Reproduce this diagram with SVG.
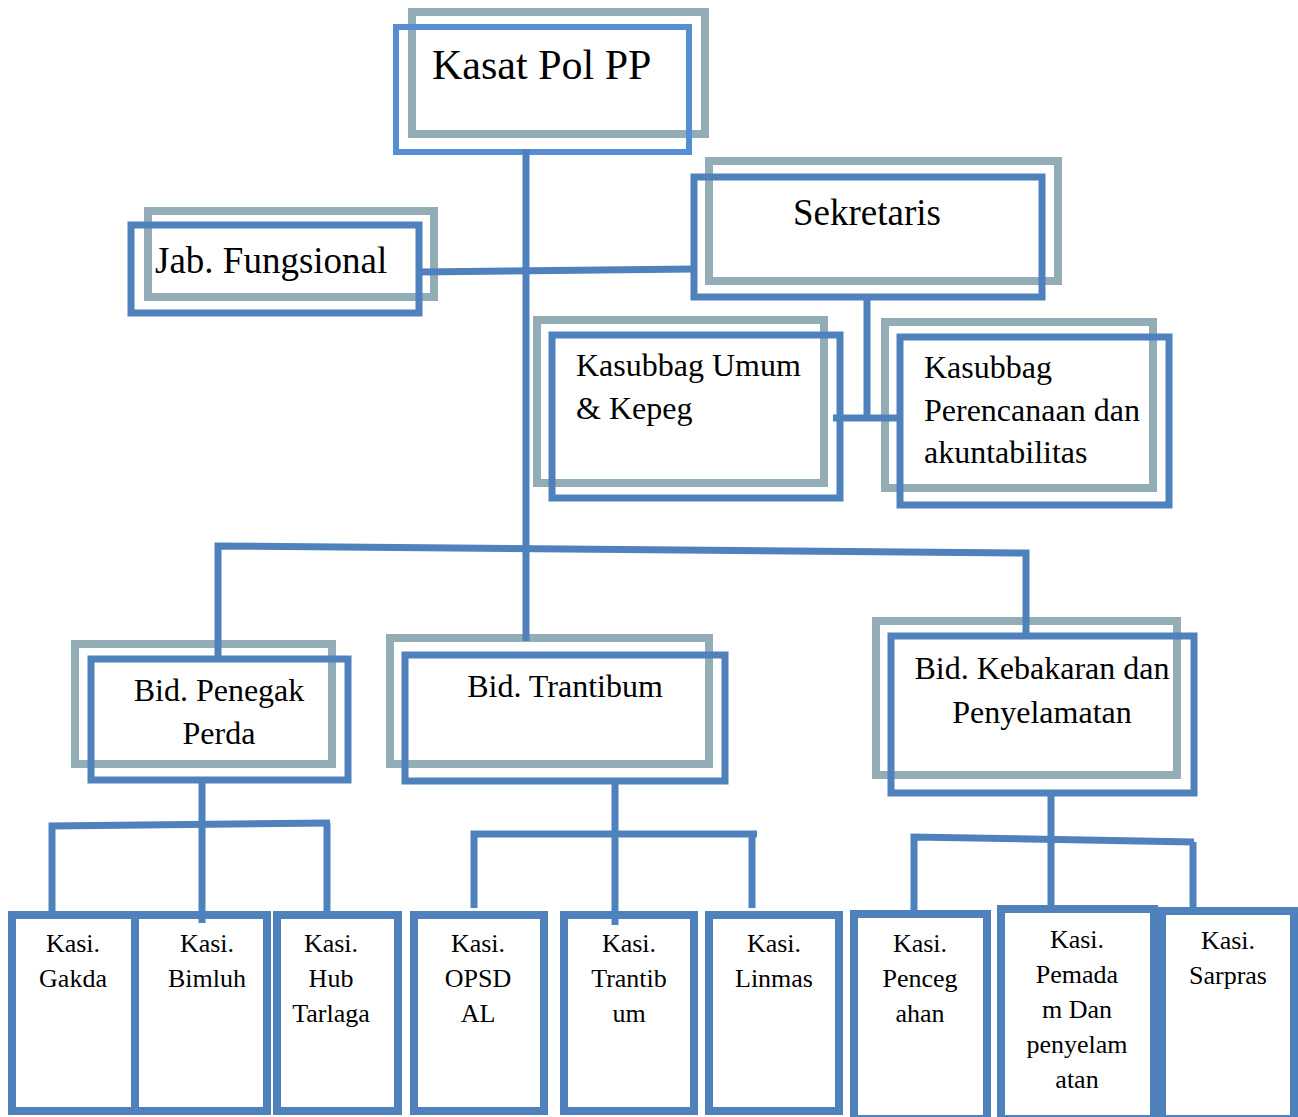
<svg xmlns="http://www.w3.org/2000/svg" width="1298" height="1117" viewBox="0 0 1298 1117">
<style>
.g{fill:none;stroke:#92adb5;stroke-width:8}
.b{fill:none;stroke:#4f81bd;stroke-width:7}
.bl{fill:none;stroke:#558ed5;stroke-width:6}
.c{fill:none;stroke:#4f81bd;stroke-width:7}
.bx{fill:none;stroke:#4f81bd;stroke-width:8}
text{font-family:"Liberation Serif","Times New Roman",serif;fill:#000}
.t30{font-size:32px}
.t34{font-size:37px}
.t24{font-size:26px;text-anchor:middle}
.m{text-anchor:middle}
</style>
<rect width="1298" height="1117" fill="#fff"/>
<g id="kasat">
<rect class="g" x="412" y="12" width="293" height="122"/>
<rect class="bl" x="396" y="27" width="293" height="125"/>
<text x="432" y="79" style="font-size:42px">Kasat Pol PP</text>
</g>
<g id="jab">
<rect class="g" x="148" y="211" width="286" height="86"/>
<rect class="b" x="131" y="225" width="288" height="88"/>
<text class="t34" x="155" y="273">Jab. Fungsional</text>
</g>
<g id="sekretaris">
<rect class="g" x="709" y="161" width="349" height="120"/>
<rect class="b" x="694" y="177" width="348" height="120"/>
<text class="t34 m" x="867" y="225">Sekretaris</text>
</g>
<g id="umum">
<rect class="g" x="537" y="320" width="287" height="163"/>
<rect class="b" x="552" y="335" width="288" height="163"/>
<text class="t30" x="576" y="376">Kasubbag Umum</text>
<text class="t30" x="576" y="419">&amp; Kepeg</text>
</g>
<g id="perencanaan">
<rect class="g" x="885" y="322" width="268" height="166"/>
<rect class="b" x="900" y="337" width="269" height="168"/>
<text class="t30" x="924" y="378">Kasubbag</text>
<text class="t30" x="924" y="421">Perencanaan dan</text>
<text class="t30" x="924" y="463">akuntabilitas</text>
</g>
<g id="penegak">
<rect class="g" x="75" y="644" width="257" height="120"/>
<rect class="b" x="91" y="659" width="257" height="121"/>
<text class="t30 m" x="219" y="701">Bid. Penegak</text>
<text class="t30 m" x="219" y="744">Perda</text>
</g>
<g id="trantibum">
<rect class="g" x="390" y="638" width="319" height="126"/>
<rect class="b" x="405" y="655" width="320" height="126"/>
<text class="t30 m" x="565" y="697">Bid. Trantibum</text>
</g>
<g id="kebakaran">
<rect class="g" x="876" y="621" width="301" height="154"/>
<rect class="b" x="891" y="636" width="303" height="157"/>
<text class="t30 m" x="1042" y="679">Bid. Kebakaran dan</text>
<text class="t30 m" x="1042" y="723">Penyelamatan</text>
</g>
<g id="connectors">
<line class="c" x1="526" y1="149" x2="526" y2="641"/>
<line class="c" x1="419" y1="272" x2="693" y2="269"/>
<line class="c" x1="867" y1="298" x2="867" y2="418"/>
<line class="c" x1="833" y1="418" x2="899" y2="418"/>
<polyline class="c" points="218,657 218,546 1026,553 1026,636"/>
<line class="c" x1="202" y1="781" x2="202" y2="923"/>
<polyline class="c" points="52,915 52,826 330,823"/>
<line class="c" x1="327" y1="823" x2="327" y2="912"/>
<line class="c" x1="615" y1="781" x2="615" y2="925"/>
<polyline class="c" points="474,908 474,834 757,834"/>
<line class="c" x1="752" y1="834" x2="752" y2="908"/>
<line class="c" x1="1051" y1="793" x2="1051" y2="907"/>
<polyline class="c" points="914,911 914,837 1194,842"/>
<line class="c" x1="1193" y1="842" x2="1193" y2="908"/>
</g>
<g id="gakda"><rect class="bx" x="12" y="915" width="123" height="196"/><text class="t24" x="73" y="952">Kasi.</text><text class="t24" x="73" y="987">Gakda</text></g>
<g id="bimluh"><rect class="bx" x="135" y="915" width="132" height="196"/><text class="t24" x="207" y="952">Kasi.</text><text class="t24" x="207" y="987">Bimluh</text></g>
<g id="hub"><rect class="bx" x="277" y="915" width="121" height="196"/><text class="t24" x="331" y="952">Kasi.</text><text class="t24" x="331" y="987">Hub</text><text class="t24" x="331" y="1022">Tarlaga</text></g>
<g id="opsdal"><rect class="bx" x="414" y="915" width="130" height="196"/><text class="t24" x="478" y="952">Kasi.</text><text class="t24" x="478" y="987">OPSD</text><text class="t24" x="478" y="1022">AL</text></g>
<g id="kasitrantib"><rect class="bx" x="564" y="915" width="130" height="196"/><text class="t24" x="629" y="952">Kasi.</text><text class="t24" x="629" y="987">Trantib</text><text class="t24" x="629" y="1022">um</text></g>
<g id="linmas"><rect class="bx" x="709" y="915" width="130" height="196"/><text class="t24" x="774" y="952">Kasi.</text><text class="t24" x="774" y="987">Linmas</text></g>
<g id="pencegahan"><rect class="bx" x="854" y="914" width="133" height="205"/><text class="t24" x="920" y="952">Kasi.</text><text class="t24" x="920" y="987">Penceg</text><text class="t24" x="920" y="1022">ahan</text></g>
<g id="pemadam"><rect class="bx" x="1001" y="909" width="153" height="210"/><text class="t24" x="1077" y="948">Kasi.</text><text class="t24" x="1077" y="983">Pemada</text><text class="t24" x="1077" y="1018">m Dan</text><text class="t24" x="1077" y="1053">penyelam</text><text class="t24" x="1077" y="1088">atan</text></g>
<g id="sarpras"><rect class="bx" x="1162" y="911" width="132" height="208"/><text class="t24" x="1228" y="949">Kasi.</text><text class="t24" x="1228" y="984">Sarpras</text></g>
</svg>
